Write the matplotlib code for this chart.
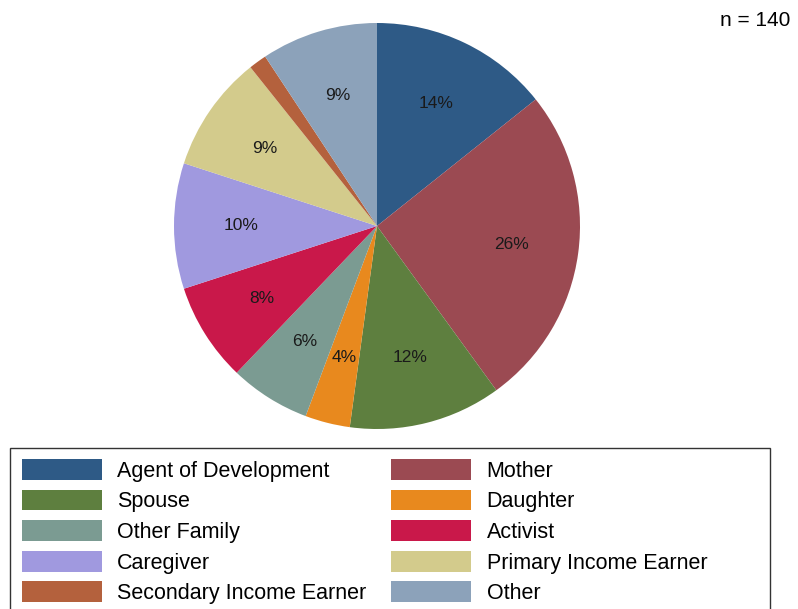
import matplotlib.pyplot as plt
import matplotlib.patches as mpatches
from matplotlib import font_manager

# role counts (n = 140)
roles = ['Agent of Development', 'Mother', 'Spouse', 'Daughter', 'Other Family',
         'Activist', 'Caregiver', 'Primary Income Earner',
         'Secondary Income Earner', 'Other']
counts = [20, 36, 17, 5, 9, 11, 14, 13, 2, 13]
colors = ['#2e5a86', '#9b4a52', '#5e7f3f', '#e8891e', '#7b9b92',
          '#c9184a', '#a099df', '#d3cb8c', '#b4613d', '#8ca2ba']

names = {f.name for f in font_manager.fontManager.ttflist}
family = 'Liberation Sans' if 'Liberation Sans' in names else 'DejaVu Sans'
plt.rcParams['font.family'] = family

W, H = 798, 609
fig = plt.figure(figsize=(W / 100, H / 100), dpi=100)

# pie centred at (377, 226) px, radius ~203 px
cx, cy, r = 377, 226, 203
ax = fig.add_axes([(cx - r) / W, (H - cy - r) / H, 2 * r / W, 2 * r / H])
n = sum(counts)


def pct_label(p):
    return f'{p:.0f}%' if p >= 2 else ''


wedges, texts, autotexts = ax.pie(
    counts, colors=colors, startangle=90, counterclock=False,
    autopct=pct_label, pctdistance=0.67,
    wedgeprops=dict(linewidth=0.4, edgecolor='none'),
    textprops=dict(fontsize=12.5, color='#1a1a1a'))
ax.set_xlim(-1, 1)
ax.set_ylim(-1, 1)
ax.set_aspect('equal')
ax.axis('off')

fig.text(790 / W, 1 - 21 / H, f'n = {n}', ha='right', va='center', fontsize=15)

# legend, filled row by row in two columns
order = [0, 2, 4, 6, 8, 1, 3, 5, 7, 9]
handles = [mpatches.Patch(facecolor=colors[i], edgecolor='none') for i in order]
labels = [roles[i] for i in order]
fig.legend(handles, labels, ncol=2, loc='upper left',
           bbox_to_anchor=(22 / W, 1 - 459 / H), borderaxespad=0, borderpad=0,
           frameon=False, fontsize=15.5, handlelength=3.72, handleheight=1.1,
           handletextpad=0.7, columnspacing=1.16, labelspacing=0.37)

frame = mpatches.Rectangle((10 / W, -0.05), 760 / W, 1 - 448 / H + 0.05,
                           transform=fig.transFigure, fill=False,
                           edgecolor='#333333', linewidth=1)
fig.add_artist(frame)

fig.savefig('out.png', dpi=100, facecolor='white')
